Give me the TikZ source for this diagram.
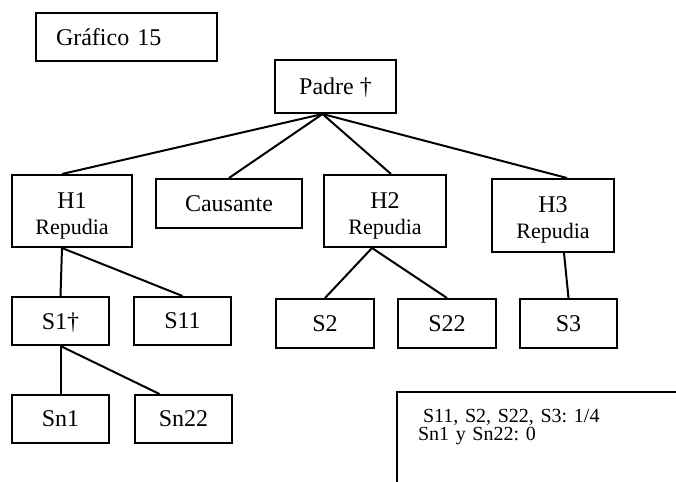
\documentclass[tikz,border=0pt]{standalone}
\usepackage{fontspec}
\setmainfont{Liberation Serif}
\usetikzlibrary{positioning}
\frenchspacing

\newcommand{\repudia}{{\fontsize{22}{26}\selectfont Repudia}}

\begin{document}
\begin{tikzpicture}[
                            x=1pt, y=-1pt,
                            node distance=22pt,
                            line width=2pt,
                            box/.style={draw, inner sep=0pt, font=\fontsize{24}{26}\selectfont, text depth=0pt},
                            nieto/.style={box, minimum width=97pt, minimum height=48pt},
                            heir/.style={draw, inner sep=0pt, align=center, font=\fontsize{24}{26}\selectfont}
                            ]
                            \useasboundingbox (0,0) rectangle (676,481);
                            \clip (0,0) rectangle (676,481);

                            \node[box, anchor=north west, minimum height=48pt,
                                  text width=141pt, inner xsep=20pt]                    (titulo)    at (35,12)      {Gráfico 15};
                            \node[box, minimum width=121pt, minimum height=53pt]         (padre)     at (335.5,86.5) {Padre †};

                            \node[heir, minimum width=120pt, minimum height=72pt]        (h1)        at (72,211)     {\rule{0pt}{25pt}H1\\\repudia};
                            \node[box, minimum width=146pt, minimum height=49pt]         (causante)  at (229,203.5)  {Causante};
                            \node[heir, minimum width=122pt, minimum height=72pt]        (h2)        at (385,211)    {\rule{0pt}{25pt}H2\\\repudia};
                            \node[heir, minimum width=122pt, minimum height=73pt]        (h3)        at (553,215.5)  {\rule{0pt}{25pt}H3\\\repudia};

                            \node[nieto, below=48pt of h1.south west, anchor=north west] (s1)                        {S1†};
                            \node[nieto, right=23pt of s1]                               (s11)                       {S11};
                            \node[nieto, below=48pt of s1]                               (sn1)                       {Sn1};
                            \node[nieto, right=24pt of sn1]                              (sn22)                      {Sn22};
                            \node[nieto, minimum width=98pt, minimum height=49pt]        (s2)        at (325,323.5)  {S2};
                            \node[nieto, minimum width=98pt, minimum height=49pt, right=of s2] (s22)                 {S22};
                            \node[nieto, minimum height=49pt, right=of s22]              (s3)                        {S3};

                            \node[draw, anchor=north west, align=left, text width=300pt,
                                  inner xsep=21pt, inner ysep=17pt, text depth=70pt,
                                  font=\fontsize{20}{18}\selectfont]                     (nota)      at (396,391)
                                  {\hspace{5pt}S11, S2, S22, S3: 1/4\\Sn1 y Sn22: 0};

                            \path ([xshift=-13pt]padre.south) edge  ([xshift=-10pt]h1.north);
                            \path ([xshift=-13pt]padre.south) edge  (causante.north);
                            \path ([xshift=-13pt]padre.south) edge  ([xshift=6pt]h2.north);
                            \path ([xshift=-13pt]padre.south) edge  ([xshift=14pt]h3.north);

                            \path ([xshift=-10pt]h1.south)    edge  (s1.north);
                            \path ([xshift=-10pt]h1.south)    edge  (s11.north);

                            \path (s1.south)                  edge  (sn1.north);
                            \path (s1.south)                  edge  ([xshift=-24pt]sn22.north);

                            \path ([xshift=-13pt]h2.south)    edge  (s2.north);
                            \path ([xshift=-13pt]h2.south)    edge  (s22.north);

                            \path ([xshift=11pt]h3.south)     edge  (s3.north);
                        \end{tikzpicture}
\end{document}
